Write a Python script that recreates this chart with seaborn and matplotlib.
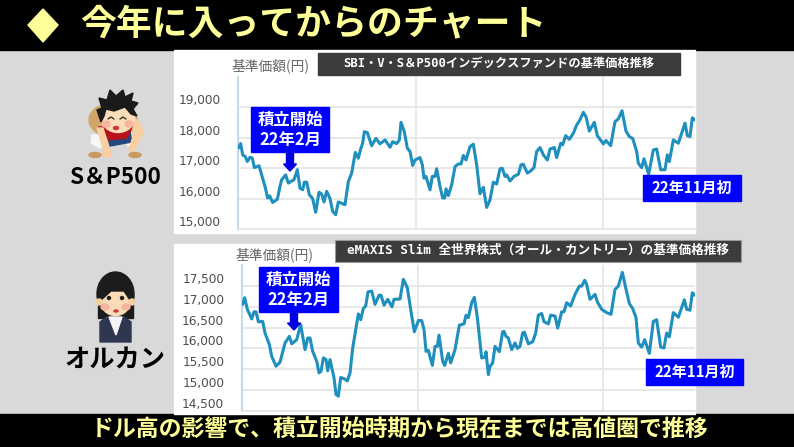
import numpy as np
import pandas as pd
import matplotlib
matplotlib.use("Agg")
import matplotlib.pyplot as plt
from matplotlib.patches import Circle, Ellipse, Polygon, Rectangle, FancyArrow
import seaborn as sns

W, H = 794, 447

# S&P500 fund
sp_time = [1, 8, 14, 22, 28, 36, 43, 49, 56, 63, 71, 81, 89, 95, 104, 118, 126, 131, 143, 151,
           161, 168, 178, 186, 194, 199, 206, 214, 224, 233, 243, 251, 258, 266, 276, 284, 293, 301, 321, 331,
           341, 352, 361, 368, 374, 379, 388, 401, 414, 426, 441, 456, 464, 476, 484, 489, 499, 508, 516, 524,
           531, 546, 553, 558, 564, 576, 583, 591, 596, 606, 614, 620, 624, 631, 641, 651, 661, 669, 676, 684,
           696, 706, 716, 726, 736, 746, 756, 766, 776, 786, 793, 801, 806, 816, 828, 841, 849, 856, 868, 878,
           888, 896, 906, 916, 928, 936, 949, 956, 968, 974, 983, 994, 1006, 1016, 1026, 1036, 1044, 1054, 1069, 1078,
           1096, 1104, 1118, 1131, 1141, 1152, 1164, 1174, 1184, 1196, 1201, 1211, 1218, 1232, 1246, 1256, 1268, 1281, 1288, 1294,
           1306, 1321, 1341, 1348, 1356, 1363, 1370]
sp_price = [17660, 17810, 17440, 17380, 17220, 17360, 17330, 17020, 17050, 17080, 16780, 16400, 16020, 16090, 15870, 15980, 16400, 16620, 16780, 16510,
            16580, 16620, 16950, 16340, 16290, 16540, 16540, 16130, 16000, 15550, 16210, 16150, 15890, 16240, 16000, 15580, 15470, 15890, 15800, 16560,
            16840, 17520, 17330, 17630, 17820, 18200, 18170, 17740, 17980, 17800, 17930, 17690, 17870, 17810, 17930, 18510, 18200, 17660, 17550, 17090,
            17270, 17350, 17110, 16670, 16730, 16290, 16730, 16730, 16980, 16400, 16020, 16020, 16320, 16100, 16450, 17050, 17140, 17140, 17420, 17270,
            17710, 17790, 17110, 16160, 16370, 15710, 15960, 16540, 16480, 16980, 17000, 16730, 16780, 16580, 16730, 16800, 17110, 17130, 16840, 16910,
            17020, 17550, 17680, 17440, 17270, 17630, 17680, 17350, 17820, 17770, 18070, 17950, 18150, 18420, 18590, 18840, 18690, 18220, 18510, 18070,
            17800, 17910, 17740, 18530, 18620, 18890, 18220, 18040, 17980, 17550, 17160, 17020, 17310, 16800, 17600, 17630, 16950, 16950, 17440, 17220,
            17930, 17820, 18480, 18070, 18040, 18660, 18590]

# all-country fund
ac_time = [3, 9, 17, 30, 37, 43, 50, 63, 70, 83, 90, 103, 115, 130, 143, 150, 165, 177, 190, 198,
           205, 213, 225, 232, 238, 245, 253, 258, 265, 277, 283, 290, 297, 307, 317, 325, 333, 350, 357, 365,
           372, 379, 390, 400, 412, 418, 427, 438, 451, 457, 475, 485, 497, 507, 518, 530, 540, 547, 553, 560,
           572, 580, 587, 592, 603, 609, 620, 627, 640, 653, 667, 673, 680, 690, 698, 707, 720, 730, 733, 740,
           745, 753, 760, 773, 783, 787, 793, 800, 810, 820, 827, 835, 843, 848, 860, 873, 882, 890, 900, 907,
           920, 927, 940, 948, 960, 967, 975, 987, 1000, 1013, 1020, 1029, 1035, 1045, 1060, 1067, 1080, 1095, 1108, 1120,
           1130, 1142, 1152, 1163, 1173, 1183, 1190, 1200, 1209, 1223, 1235, 1245, 1257, 1267, 1275, 1283, 1295, 1310, 1328, 1335,
           1345, 1352, 1359]
ac_price = [17060, 17220, 16940, 16710, 16880, 16880, 16640, 16650, 16370, 16090, 15810, 15570, 15670, 16130, 16290, 16110, 16210, 16570, 15970, 16250,
            16250, 15930, 15690, 15410, 15450, 15770, 15730, 15460, 15730, 15290, 14890, 14850, 15300, 15270, 15220, 15410, 16010, 16830, 16690, 16960,
            17020, 17360, 17380, 17060, 17280, 17280, 17040, 17180, 17000, 17180, 17190, 17660, 17460, 16940, 16400, 16670, 16670, 16450, 15930, 15950,
            15590, 16050, 16050, 16320, 15690, 15590, 15880, 15650, 15970, 16560, 16590, 16800, 16740, 17100, 17230, 16740, 15770, 15790, 15920, 15370,
            15570, 15650, 16050, 15920, 16400, 16410, 16290, 16250, 15970, 16130, 16000, 16050, 16370, 16390, 16110, 16160, 16370, 16800, 16840, 16640,
            16590, 16800, 16780, 16490, 16880, 16880, 17100, 17020, 17300, 17500, 17500, 17640, 17540, 17180, 17300, 17120, 16940, 16860, 16820, 17420,
            17500, 17830, 17460, 17080, 16960, 16740, 16130, 16030, 16210, 15880, 16650, 16690, 16030, 16010, 16370, 16280, 16860, 16750, 17170, 16940,
            16920, 17340, 17280]

sp_ticks = [15000, 16000, 17000, 18000, 19000]
ac_ticks = [14500, 15000, 15500, 16000, 16500, 17000, 17500]
sp_time_grid = [534, 1095]
ac_time_grid = [530, 1084]

title_text = "今年に入ってからのチャート"
footer_text = "ドル高の影響で、積立開始時期から現在までは高値圏で推移"
sp_header = "SBI・V・S＆P500インデックスファンドの基準価格推移"
ac_header = "eMAXIS Slim 全世界株式（オール・カントリー）の基準価格推移"
unit_label = "基準価額(円)"
start_label = "積立開始\n22年2月"
now_label = "22年11月初"

LINE = "#1f8fbd"
GRID = "#e6e6e6"
BG = "#d9d9d9"
BLUE = "#0000ff"
YELLOW = "#ffff99"
SKIN = "#fbdcb8"

sns.set_theme(style="white")
plt.rcParams["font.family"] = ["Noto Sans CJK JP", "DejaVu Sans"]

fig = plt.figure(figsize=(W / 100, H / 100), dpi=100, facecolor=BG)

# full figure layer in pixel coordinates for banners and illustrations
bg = fig.add_axes([0, 0, 1, 1], zorder=0)
bg.set_xlim(0, W)
bg.set_ylim(H, 0)
bg.axis("off")
top = fig.add_axes([0, 0, 1, 1], zorder=5)
top.set_xlim(0, W)
top.set_ylim(H, 0)
top.axis("off")
top.patch.set_alpha(0)

bg.add_patch(Rectangle((0, 0), W, 50, color="black"))
bg.add_patch(Rectangle((0, 414), W, 33, color="black"))
bg.add_patch(Rectangle((174, 50), 521, 183, color="white"))
bg.add_patch(Rectangle((174, 244), 521, 170, color="white"))

bg.add_patch(Polygon([(43, 9), (58, 25), (43, 42), (28, 25)], color=YELLOW))
bg.text(80, 24, title_text, color=YELLOW, fontsize=25.8, fontweight="bold", va="center", ha="left")
bg.text(400, 430, footer_text, color=YELLOW, fontsize=16.5, fontweight="bold", va="center", ha="center")


def plot_fund(left, right, y_bottom, y_top, time, price, ticks, ylim, xmax, time_grid):
    ax = fig.add_axes([left / W, 1 - y_bottom / H, (right - left) / W, (y_bottom - y_top) / H], zorder=2)
    ax.patch.set_alpha(0)
    ax.grid(False)
    data = pd.DataFrame({"time": time, "price": price})
    for t in time_grid:
        ax.axvline(t, color=GRID, lw=1.3, zorder=1)
    for v in ticks:
        ax.axhline(v, color=GRID, lw=1.3, zorder=1)
    sns.lineplot(data=data, x="time", y="price", ax=ax, color=LINE, lw=2.2, estimator=None, zorder=3)
    ax.set_xlim(0, xmax)
    ax.set_ylim(*ylim)
    ax.set_xticks([])
    ax.set_yticks(ticks)
    ax.set_yticklabels([f"{v:,}" for v in ticks], fontsize=8.7, color="#4d4d4d",
                        family="DejaVu Sans", va="bottom")
    ax.tick_params(axis="y", length=0, pad=12.6)
    ax.set_xlabel("")
    ax.set_ylabel("")
    for name in ["top", "right"]:
        ax.spines[name].set_visible(False)
    ax.spines["left"].set_color("#c3dbe8")
    ax.spines["left"].set_linewidth(1.5)
    ax.spines["bottom"].set_color(GRID)
    ax.spines["bottom"].set_linewidth(1.3)
    return ax


plot_fund(238, 695, 229, 77, sp_time, sp_price, sp_ticks, (15000, 20000), 1371, sp_time_grid)
plot_fund(241.7, 695, 410.7, 265.3, ac_time, ac_price, ac_ticks, (14500, 18000), 1360, ac_time_grid)

# chart headers
top.add_patch(Rectangle((318, 53), 362, 22, color="#3c3c3c"))
top.text(499, 63.5, sp_header, color="white", fontsize=8.8, fontweight="bold", ha="center", va="center",
         family=["DejaVu Sans Mono", "Noto Sans CJK JP"])
top.add_patch(Rectangle((335, 240), 406, 22, facecolor="#3c3c3c", edgecolor="#999999", lw=0.8))
top.text(538, 250.5, ac_header, color="white", fontsize=9.1, fontweight="bold", ha="center", va="center",
         family=["DejaVu Sans Mono", "Noto Sans CJK JP"])
top.text(232, 66, unit_label, color="#666666", fontsize=9.9, ha="left", va="center")
top.text(236, 255, unit_label, color="#666666", fontsize=9.9, ha="left", va="center")


def callouts(x0, y0, w, h, ax_x, tip_y, nx, ny, nw, nh):
    top.add_patch(Rectangle((x0, y0), w, h, color=BLUE))
    top.text(x0 + w / 2, y0 + h / 2, start_label, color="white", fontsize=11.8, fontweight="bold",
             ha="center", va="center", linespacing=1.15)
    top.add_patch(FancyArrow(ax_x, y0 + h, 0, tip_y - y0 - h, width=7, head_width=13, head_length=7,
                             length_includes_head=True, color="#0000e0"))
    top.add_patch(Rectangle((nx, ny), nw, nh, color=BLUE))
    top.text(nx + nw / 2, ny + nh / 2, now_label, color="white", fontsize=10.8, fontweight="bold",
             ha="center", va="center")


callouts(251, 107, 78, 45, 290, 171, 643, 175, 98, 26)
callouts(259, 267, 79, 45, 294, 330, 646, 359, 97, 26)

top.text(115, 178, "S＆P500", color="black", fontsize=16.3, fontweight="bold", ha="center", va="center")
top.text(115, 359, "オルカン", color="black", fontsize=18.2, fontweight="bold", ha="center", va="center")

# boy illustration
top.add_patch(Ellipse((113, 120), 48, 34, color="#d4a56a"))
top.add_patch(Polygon([(92, 135), (91, 143), (100, 148), (108, 142), (103, 135)], color="#f7f7f7"))
top.add_patch(Polygon([(126, 138), (128, 146), (138, 142), (139, 135)], color="#f7f7f7"))
top.add_patch(Polygon([(106, 134), (130, 132), (132, 142), (110, 146)], color="#25477e"))
top.add_patch(Polygon([(98, 127), (132, 127), (127, 138), (108, 140)], color="#b5121b"))
top.add_patch(Polygon([(134, 118), (141, 124), (143, 134), (133, 152), (129, 150), (133, 136)], color="#f6cfa4"))
top.add_patch(Polygon([(97, 128), (103, 128), (110, 150), (104, 152)], color="#f6cfa4"))
top.add_patch(Circle((107, 153), 4.5, color="#f6cfa4"))
top.add_patch(Ellipse((95, 155), 12, 5, color="#c99a62"))
top.add_patch(Ellipse((135, 155), 12, 5, color="#c99a62"))
top.add_patch(Ellipse((118, 118), 33, 29, color=SKIN))
top.add_patch(Polygon([(101, 122), (97, 110), (102, 108), (99, 98), (107, 100), (110, 90), (116, 96), (123, 90),
                       (125, 97), (133, 93), (131, 101), (138, 103), (133, 109), (137, 116), (131, 114),
                       (125, 107), (114, 111), (106, 109), (104, 116)], color="#1a1a1a"))
top.add_patch(Ellipse((106, 124), 8, 6, color="#f7b5a0"))
top.add_patch(Ellipse((129, 124), 8, 6, color="#f7b5a0"))
top.plot([108, 111, 114], [119, 117, 119], color="#333333", lw=1)
top.plot([120, 123, 126], [119, 117, 119], color="#333333", lw=1)
top.add_patch(Ellipse((116, 128), 5, 3, color="#d0343c"))

# woman illustration
top.add_patch(Ellipse((115.5, 294), 37, 44, color="#1c1c1c"))
top.add_patch(Rectangle((98, 295), 35, 23, color="#1c1c1c"))
top.add_patch(Polygon([(107, 317), (124, 317), (131, 322), (131, 342), (100, 342), (100, 322)], color="#2f3650"))
top.add_patch(Polygon([(109, 317), (122, 317), (116, 335)], color="#f5f5f5"))
top.add_patch(Ellipse((115.5, 302), 29, 27, color=SKIN))
top.add_patch(Polygon([(101, 300), (104, 288), (116, 284), (127, 288), (130, 300), (124, 291), (111, 291)], color="#1c1c1c"))
top.add_patch(Circle((99, 302), 3, color="#f6cfa4"))
top.add_patch(Circle((132, 302), 3, color="#f6cfa4"))
top.add_patch(Ellipse((105, 307), 8, 6, color="#f7b5a0"))
top.add_patch(Ellipse((126, 307), 8, 6, color="#f7b5a0"))
top.add_patch(Circle((109, 298), 1.5, color="#222222"))
top.add_patch(Circle((122, 298), 1.5, color="#222222"))
top.add_patch(Ellipse((116, 311), 4, 2, color="#d0343c"))

fig.savefig("out.png", dpi=100, facecolor=BG)
